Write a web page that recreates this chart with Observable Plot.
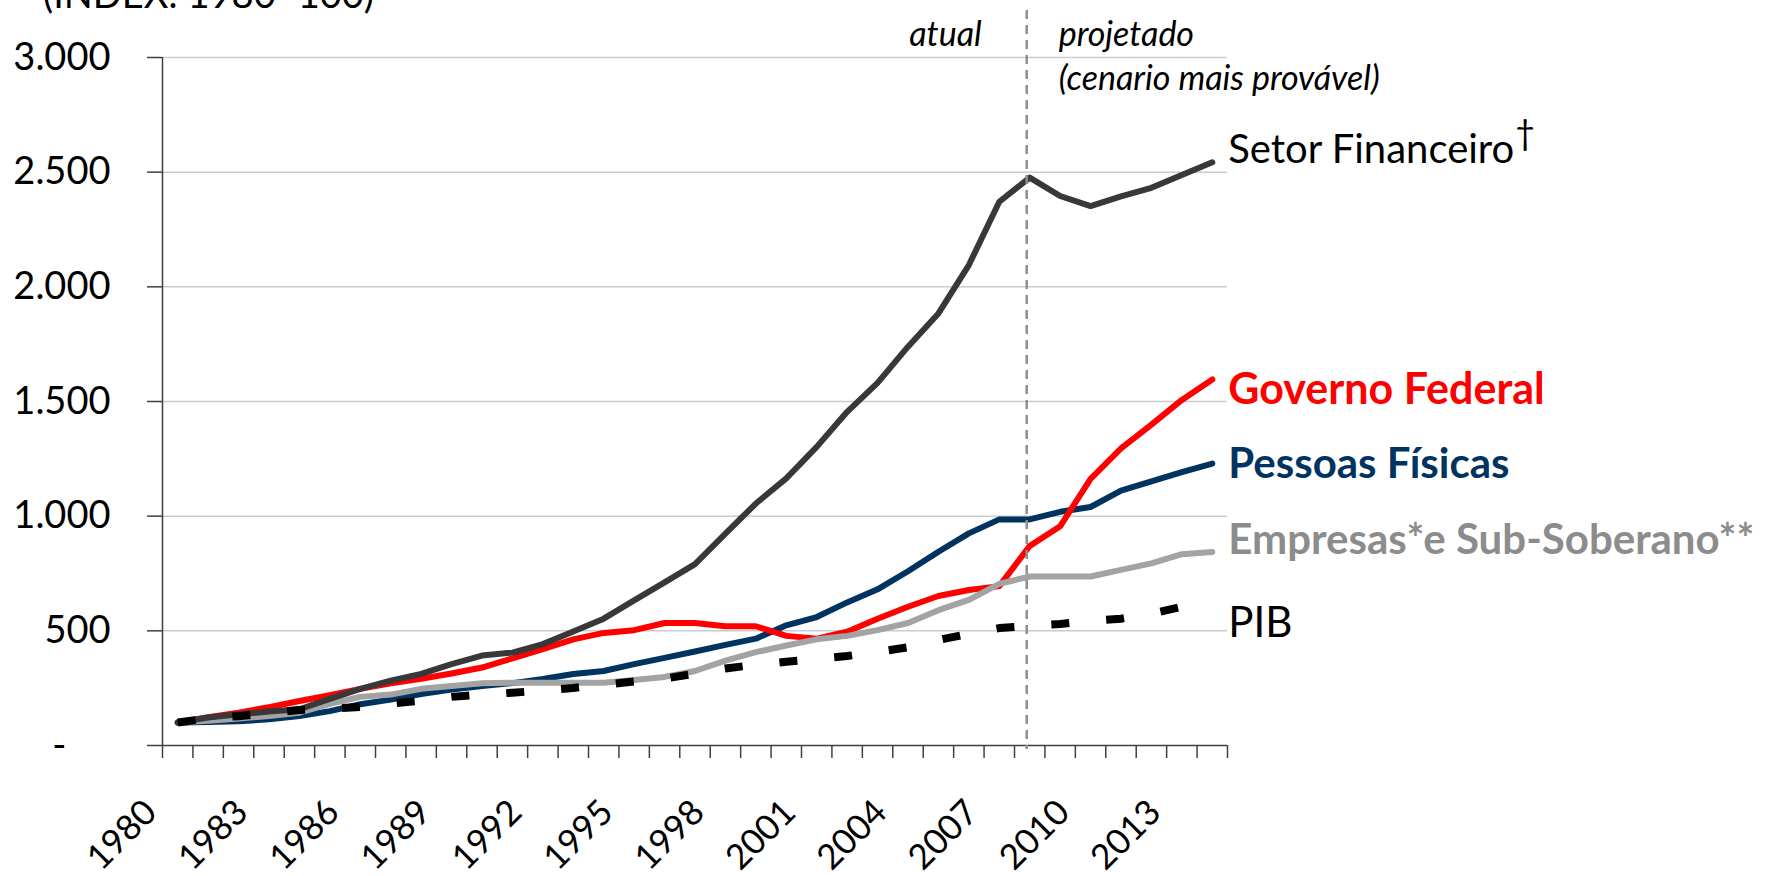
<!DOCTYPE html>
<html>
<head>
<meta charset="utf-8">
<script src="https://cdn.jsdelivr.net/npm/d3@7"></script>
<script src="https://cdn.jsdelivr.net/npm/@observablehq/plot@0.6"></script>
<style>
  html, body { margin: 0; padding: 0; background: #fff; overflow: hidden; }
  #wrap { position: relative; width: 1776px; height: 876px; }
  #title { position: absolute; left: 43px; top: -26px; font-family: Lato, sans-serif; font-size: 38px; line-height: 1; white-space: nowrap; color: #000; }
  #chart { position: absolute; left: 0; top: 0; }
</style>
</head>
<body>
<div id="wrap">
  <div id="chart"></div>
  <div id="title">(INDEX: 1980=100)</div>
</div>
<script>
// ---- data ----
const years = [1980, 1981, 1982, 1983, 1984, 1985, 1986, 1987, 1988, 1989,
               1990, 1991, 1992, 1993, 1994, 1995, 1996, 1997, 1998, 1999,
               2000, 2001, 2002, 2003, 2004, 2005, 2006, 2007, 2008, 2009,
               2010, 2011, 2012, 2013, 2014];

const setorFinanceiro = [100, 122, 136, 148, 158, 203, 247, 283, 312, 355,
                         392, 405, 442, 497, 553, 633, 711, 791, 924, 1055,
                         1165, 1302, 1455, 1581, 1739, 1884, 2095, 2371, 2476, 2396,
                         2352, 2394, 2432, 2488, 2543];

const governoFederal = [100, 123, 143, 167, 194, 219, 247, 271, 291, 314,
                        340, 380, 420, 463, 491, 503, 534, 534, 520, 520,
                        478, 466, 496, 553, 605, 652, 678, 695, 870, 956,
                        1163, 1296, 1399, 1507, 1596];

const pessoasFisicas = [100, 103, 106, 114, 129, 150, 180, 200, 224, 244,
                        259, 272, 290, 312, 325, 355, 382, 410, 439, 466,
                        524, 560, 624, 681, 760, 845, 925, 986, 986, 1019,
                        1040, 1111, 1152, 1192, 1229];

const empresasSubSoberano = [100, 108, 118, 129, 143, 182, 212, 222, 247, 259,
                             271, 274, 274, 274, 274, 286, 299, 325, 370, 407,
                             436, 463, 478, 503, 534, 590, 635, 705, 737, 737,
                             737, 766, 794, 834, 844];

const pib = [100, 118, 128, 140, 155, 161, 168, 183, 195, 212,
             222, 230, 240, 251, 265, 279, 292, 313, 336, 352,
             365, 377, 390, 408, 428, 460, 487, 512, 522, 530,
             543, 553, 575, 605, 628];

const seriesNames = ["Setor Financeiro", "Governo Federal", "Pessoas Físicas",
                     "Empresas*e Sub-Soberano**", "PIB"];
const yTicks = [0, 500, 1000, 1500, 2000, 2500, 3000];
const gridValues = [500, 1000, 1500, 2000, 2500, 3000];
const xLabelYears = [1980, 1983, 1986, 1989, 1992, 1995, 1998, 2001, 2004, 2007, 2010, 2013];
const dividerYear = 2008;
const annotLeft = ["atual"];
const annotRight1 = ["projetado"];
const annotRight2 = ["(cenario mais provável)"];
const dagger = ["†"];

// ---- table built from the arrays ----
const valuesByName = {
  "Setor Financeiro": setorFinanceiro,
  "Governo Federal": governoFederal,
  "Pessoas Físicas": pessoasFisicas,
  "Empresas*e Sub-Soberano**": empresasSubSoberano,
  "PIB": pib
};
const rows = seriesNames.flatMap(name =>
  years.map((year, i) => ({name, year, value: valuesByName[name][i]})));
const lastOf = name => rows.filter(r => r.name === name).at(-1);

// category boundaries for the tick marks
const boundaries = years.map(y => y - 0.5).concat([years[years.length - 1] + 0.5]);

// ---- styles ----
const FONT = "Lato, sans-serif";
const style = {
  "Pessoas Físicas":            {stroke: "#00335f", width: 6, label: "#00335f", weight: "bold",   dy: 0.6,   size: 42},
  "Governo Federal":            {stroke: "#ff0000", width: 6, label: "#ff0000", weight: "bold",   dy: 10.7,  size: 43},
  "Empresas*e Sub-Soberano**":  {stroke: "#a3a3a3", width: 6, label: "#8c8c8c", weight: "bold",   dy: -11.7, size: 42},
  "Setor Financeiro":           {stroke: "#383838", width: 6, label: "#000000", weight: "normal", dy: -12,   size: 40},
  "PIB":                        {stroke: "#000000", width: 8, label: "#000000", weight: "normal", dy: 21.7,  size: 42, dash: "18,37", cap: "butt"}
};
const drawOrder = ["Pessoas Físicas", "Governo Federal", "Empresas*e Sub-Soberano**", "Setor Financeiro", "PIB"];

const ptLocale = d3.formatLocale({decimal: ",", thousands: ".", grouping: [3], currency: ["R$", ""]});
const fmtInt = ptLocale.format(",d");
const yFormat = v => v === 0 ? "-\u2007\u2007" : fmtInt(v);

const axisColor = "#404040";

const lineMarks = drawOrder.map(name => Plot.line(rows.filter(r => r.name === name), {
  x: "year", y: "value",
  stroke: style[name].stroke,
  strokeWidth: style[name].width,
  strokeDasharray: style[name].dash,
  strokeLinecap: style[name].cap || "round",
  strokeLinejoin: "round"
}));

const labelMarks = seriesNames.map(name => Plot.text([lastOf(name)], {
  x: "year", y: "value", text: d => d.name,
  textAnchor: "start", lineAnchor: "middle",
  dx: 16, dy: style[name].dy,
  fill: style[name].label, fontWeight: style[name].weight,
  fontSize: style[name].size, fontFamily: FONT
}));

const chart = Plot.plot({
  width: 1776,
  height: 876,
  marginLeft: 162,
  marginRight: 549,
  marginTop: 57,
  marginBottom: 131,
  x: {domain: [boundaries[0], boundaries[boundaries.length - 1]]},
  y: {domain: [0, 3000]},
  style: {fontFamily: FONT, background: "white", overflow: "visible"},
  marks: [
    Plot.ruleY(gridValues, {stroke: "#cccccc", strokeWidth: 1.5}),
    // x tick marks at category boundaries
    Plot.axisX(boundaries, {tickSize: 13, tickFormat: () => "", stroke: axisColor, strokeWidth: 1.5, label: null}),
    // x labels
    Plot.axisX(xLabelYears, {tickSize: 0, tickPadding: 61, tickRotate: -45, textAnchor: "end", lineAnchor: "middle",
                             dx: -27, tickFormat: d => String(d), fontSize: 35, fill: "#000", label: null}),
    // y axis
    Plot.axisY(yTicks, {tickSize: 15, tickPadding: 37, tickFormat: yFormat, fontSize: 38,
                        stroke: axisColor, strokeWidth: 1.5, fill: "#000", label: null}),
    Plot.ruleX([boundaries[0]], {stroke: axisColor, strokeWidth: 1.5}),
    Plot.ruleY([0], {stroke: axisColor, strokeWidth: 1.5}),
    ...lineMarks,
    Plot.ruleX([dividerYear], {stroke: "#8f8f8f", strokeWidth: 2.5, strokeDasharray: "9,6",
                               insetTop: -47, insetBottom: -4, dx: -3}),
    Plot.text(annotLeft, {x: () => dividerYear, frameAnchor: "top", text: d => d, textAnchor: "end",
                          lineAnchor: "middle", dx: -48, dy: -22.6, fontStyle: "italic", fontSize: 34}),
    Plot.text(annotRight1, {x: () => dividerYear, frameAnchor: "top", text: d => d, textAnchor: "start",
                            lineAnchor: "middle", dx: 29, dy: -22.6, fontStyle: "italic", fontSize: 34}),
    Plot.text(annotRight2, {x: () => dividerYear, frameAnchor: "top", text: d => d, textAnchor: "start",
                            lineAnchor: "middle", dx: 29, dy: 22, fontStyle: "italic", fontSize: 34}),
    ...labelMarks,
    Plot.text(dagger, {x: () => lastOf("Setor Financeiro").year, y: () => lastOf("Setor Financeiro").value,
                       text: d => d, textAnchor: "start", lineAnchor: "middle",
                       dx: 303, dy: -28, fontSize: 34})
  ]
});
document.getElementById("chart").appendChild(chart);
</script>
</body>
</html>
